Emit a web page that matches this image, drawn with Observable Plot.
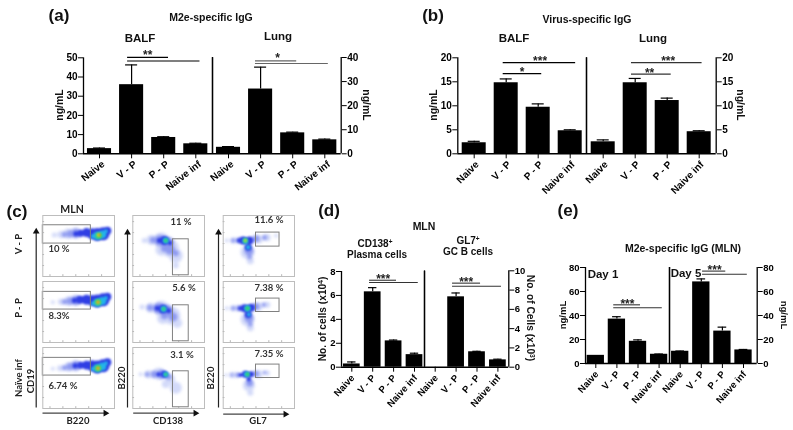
<!DOCTYPE html>
<html>
<head>
<meta charset="utf-8">
<script src="https://cdn.jsdelivr.net/npm/d3@7"></script>
<script src="https://cdn.jsdelivr.net/npm/@observablehq/plot@0.6"></script>
<style>
html,body{margin:0;padding:0;background:#fff}
#fig{position:relative;width:793px;height:430px;overflow:hidden;background:#fff;filter:blur(.35px);font-family:"Liberation Sans",Arial,sans-serif}
#fig svg{position:absolute;left:0;top:0;background:transparent;overflow:visible}
.t{position:absolute;white-space:nowrap;color:#111;line-height:1}
.t sup{font-size:.65em;line-height:0;vertical-align:baseline;position:relative;top:-.45em}
</style>
</head>
<body>
<div id="fig"></div>
<script>
// ---------- data ----------
const groups = ["Naive", "V - P", "P - P", "Naive inf"];

const aBalf = [2.7, 36, 8.5, 5.2],      aBalfErr = [0.3, 10.3, 0.4, 0.3];
const aLung = [2.7, 26.9, 8.7, 5.8],    aLungErr = [0.3, 9.1, 0.3, 0.3];
const bBalf = [2.3, 14.8, 9.7, 4.8],    bBalfErr = [0.3, 0.8, 0.7, 0.2];
const bLung = [2.5, 14.8, 11.1, 4.6],   bLungErr = [0.4, 0.9, 0.5, 0.2];
const dPlasma = [0.27, 6.3, 2.2, 1.05], dPlasmaErr = [0.17, 0.35, 0.07, 0.12];
const dGC = [0, 7.3, 1.6, 0.76],        dGCErr = [0, 0.4, 0.05, 0.07];
const eDay1 = [6.8, 37, 18.5, 7.7],     eDay1Err = [0, 2, 1.2, 0.2];
const eDay5 = [10.2, 68, 27, 11.3],     eDay5Err = [0.2, 2.5, 3.3, 0.4];

// significance bars: [from group, to group, value]; stars: [label, group, value]
const aBalfBars = [[0.875, 2.15, 50.2], [0.875, 3.13, 48.3]], aBalfStars = [["**", 1.5, 52.8]];
const aLungBars = [[0.84, 2.125, 38.6], [0.84, 3.11, 37.5]],  aLungStars = [["*", 1.53, 40.8]];
const bBalfBars = [[0.906, 3.17, 19], [0.906, 2.11, 16.7]],   bBalfStars = [["***", 2.06, 19.85], ["*", 1.5, 17.56]];
const bLungBars = [[0.884, 3.09, 19], [0.884, 2.125, 16.6]],  bLungStars = [["***", 2.03, 19.85], ["**", 1.45, 17.35]];
const dPlasmaBars = [[0.85, 2.14, 7.27], [0.85, 3.18, 7.08]], dPlasmaStars = [["***", 1.5, 7.6]];
const dGCBars = [[0.83, 2.17, 8.72], [0.83, 3.17, 8.4]],      dGCStars = [["***", 1.48, 9.1]];
const eDay1Bars = [[0.85, 2.12, 48.9], [0.85, 3.15, 46.4]],   eDay1Stars = [["***", 1.5, 51.9]];
const eDay5Bars = [[1.06, 2.16, 77], [1.06, 3.18, 74.4]],     eDay5Stars = [["***", 1.63, 80]];

// flow plots: gate [x1, x2, y1, y2] in % of the frame; density blobs [level, x, y, radius]
const densityColors = ["#d3daf9", "#8c98f0", "#2f3ee4", "#24b4ea", "#33d46c", "#e6e22e", "#e2331f"];
const flowTicks = [10, 28, 46, 64, 82];

const gatesB220 = [[0, 67, 16, 46], [0, 67, 17, 46], [0, 67, 17, 46]];
const gatesCD138 = [[56, 78, 39, 98], [56, 78, 39, 98], [56, 78, 39, 98]];
const gatesGL7 = [[46, 79, 28, 51], [46, 79, 28, 50], [46, 79, 28, 50]];

const b220VP = [[0,16,32,2.5],[0,25,31,3.5],[0,35,30,5],
  [1,30,31,2.5],[1,38,30,3.5],[1,46,29,5],
  [2,46,30,2.5],[2,53,29,3.5],[2,61,28,4.5],[2,69,30,5.5],[2,76,31,6.5],[2,84,30,6.5],[2,90,25,4],
  [3,70,34,2.2],[3,76,33,4],[3,83,31,4],[3,88,26,2],[4,78,33,3.2],[5,78,32,1.8],[6,79,32,0.9]];
const b220PP = [[0,14,34,2],[0,25,33,3],[0,36,32,4.5],
  [1,30,33,2.5],[1,38,32,3.5],[1,46,31,5],
  [2,44,31,2.5],[2,52,30,4],[2,61,30,5],[2,69,31,5.5],[2,76,32,6.5],[2,84,30,6.5],[2,90,25,4],
  [3,70,36,2.2],[3,76,35,4],[3,83,32,4],[3,88,27,2],[4,77,34,3.2],[5,77,34,1.8],[6,77,34,0.9]];
const b220Inf = [[0,14,35,2],[0,24,34,3],[0,36,32,4.5],
  [1,30,33,2.5],[1,38,31,3.5],[1,46,30,5],
  [2,45,30,2.5],[2,53,29,3.5],[2,61,29,4.5],[2,69,30,5.5],[2,76,32,6.5],[2,84,30,6.5],[2,90,24,4],
  [3,70,35,2.2],[3,76,34,4],[3,83,31,4],[3,88,26,2],[4,77,34,3.2],[5,77,34,1.8],[6,77,34,0.9]];

const cd138VP = [[0,16,41,2.5],[0,26,40,5],[0,40,40,7.5],[0,52,54,9],[0,60,66,7],[0,40,56,6],[0,60,82,3],
  [1,28,40,3],[1,38,41,5.5],[1,50,44,5],[1,52,56,5],[1,44,54,3.5],[1,60,62,3],
  [2,37,41,2.5],[2,44,41,4.5],[2,52,45,2.2],[3,46,41,3],[4,46,41,1.9]];
const cd138PP = [[0,13,42,2.5],[0,25,43,5],[0,40,44,7.5],[0,54,56,9],[0,62,68,5],[0,42,60,6],
  [1,24,43,3],[1,36,44,5.5],[1,48,47,5.5],[1,56,58,4.5],[1,44,56,3.5],
  [2,34,44,2.5],[2,42,45,4.5],[2,50,48,2.5],[3,43,45,3],[4,43,45,1.9]];
const cd138Inf = [[0,11,44,2],[0,22,44,4],[0,36,43,6],[0,52,52,5],[0,60,66,6],[0,46,60,4],
  [1,20,44,2.2],[1,30,44,3.5],[1,40,44,4.5],[1,50,48,3],
  [2,36,44,2.2],[2,44,44,3.5],[3,46,44,2.6],[4,46,44,1.6]];

const gl7VP = [[0,5,41,2],[0,14,41,3],[0,50,39,4],[0,62,36,3.5],[0,74,33,2],[0,34,60,7],[0,38,74,3.5],
  [1,14,41,2],[1,22,41,3],[1,46,38,3.5],[1,58,36,2.5],[1,36,58,4.5],[1,37,68,2.2],
  [2,22,41,2],[2,28,41,4],[2,37,41,4],[2,35,52,3.5],
  [3,31,42,3],[3,35,52,2.2],[4,31,41,2.2],[5,31,41,1.3]];
const gl7PP = [[0,5,44,2],[0,14,44,3],[0,50,41,4],[0,62,38,3],[0,34,62,7],[0,38,76,3.5],
  [1,14,44,2],[1,22,44,3],[1,46,41,3.5],[1,57,38,2.2],[1,36,60,4.5],[1,38,70,2.2],
  [2,24,44,2.2],[2,30,44,4],[2,39,43,4],[2,35,54,3.5],
  [3,34,44,3.2],[3,36,54,2],[4,34,44,2.2]];
const gl7Inf = [[0,4,45,1.8],[0,13,45,3],[0,50,44,4],[0,62,42,2.6],[0,36,62,6],[0,38,74,3],
  [1,12,45,1.6],[1,20,45,2.5],[1,46,43,3],[1,58,41,1.8],[1,37,58,3.5],
  [2,24,45,2],[2,31,44,3.5],[2,39,44,3],[2,36,52,2.2],
  [3,33,44,2.8],[4,34,44,2]];

const panelLetters = [["(a)", 59, 15], ["(b)", 433, 15], ["(c)", 17, 211], ["(d)", 329, 210], ["(e)", 568, 210]];
const panelTitles = [
  ["M2e-specific IgG", 211, 17, 10.5], ["BALF", 140, 39, 11.5], ["Lung", 278, 37, 11.5],
  ["Virus-specific IgG", 587, 19, 10.5], ["BALF", 514, 39, 11.5], ["Lung", 653, 39, 11.5],
  ["MLN", 424, 226, 10.5], ["CD138<sup>+</sup>", 375, 244, 10], ["Plasma cells", 377, 255, 10],
  ["GL7<sup>+</sup>", 468, 241, 10], ["GC B cells", 468, 252, 10],
  ["M2e-specific IgG (MLN)", 683, 248, 10.5], ["Day 1", 603, 275, 11.5], ["Day 5", 686, 274, 11.5]
];
const axisTitles = [
  ["ng/mL", 59, 105, -90, 10.5], ["ng/mL", 367, 105, 90, 10.5], ["ng/mL", 433, 105, -90, 10.5], ["ng/mL", 741, 105, 90, 10.5],
  ["No. of cells (x10<sup>4</sup>)", 323, 319, -90, 10.2], ["No. of Cells (x10<sup>3</sup>)", 530, 318, 90, 10.2],
  ["ng/mL", 563, 315, -90, 9.5], ["ng/mL", 784, 315, 90, 9.5]
];
const flowLabels = [
  ["MLN", 72, 209, 0, 10.5], ["V - P", 19, 244, -90, 9.5], ["P - P", 19, 308, -90, 9.5],
  ["Naïve inf", 19, 378, -90, 9.5], ["CD19", 31, 381, -90, 9.5],
  ["B220", 122, 378, -90, 9.5], ["B220", 211, 378, -90, 9.5],
  ["B220", 78, 421, 0, 9.5], ["CD138", 168, 421, 0, 9.5], ["GL7", 258, 421, 0, 9.5]
];
const flowPercents = [
  ["10 %", 59, 249], ["8.3%", 59, 316], ["6.74 %", 63, 386],
  ["11 %", 181, 222], ["5.6 %", 184, 288], ["3.1 %", 182, 355],
  ["11.6 %", 269, 220], ["7.38 %", 269, 288], ["7.35 %", 269, 354]
];
// gating arrows: [x1, y1, x2, y2]
const flowArrows = [
  [35.7, 407, 35.7, 231], [127, 407, 127, 232], [218, 407, 218, 232],
  [42, 412.7, 105, 412.7], [132.7, 412.7, 195, 412.7], [222.7, 413.7, 285, 413.7]
];

// ---------- drawing ----------
const fig = document.getElementById("fig");
const W = 793, H = 430;
const baseStyle = {fontFamily: '"Liberation Sans",Arial,sans-serif', fontSize: "10px", fontWeight: 700, color: "#000", background: "transparent", overflow: "visible"};

function label(html, x, y, size, opts = {}) {
  const el = document.createElement("div");
  el.className = "t";
  el.innerHTML = html;
  el.style.left = x + "px";
  el.style.top = y + "px";
  el.style.fontSize = size + "px";
  el.style.fontWeight = opts.weight || 700;
  if (opts.family) el.style.fontFamily = opts.family;
  if (opts.color) el.style.color = opts.color;
  el.style.transform = `translate(-50%,-50%) rotate(${opts.rotate || 0}deg)`;
  fig.appendChild(el);
}

// one half of a bar panel: its own value scale, drawn on the page-sized canvas
function half({values, errors, bars, stars, first, step, x0, x1, yTop, y0, max, yTicks, side, barColor = "#000", barWidth = 0.375, fontSize = "10px", rotate = -42, labelDx = 0}) {
  const rows = values.map((v, i) => ({i, v, e: errors[i]}));
  const toIndex = (px) => (px - first) / step;
  const d0 = toIndex(x0), d1 = toIndex(x1);
  const marks = [
    Plot.rectY(rows, {x1: (d) => d.i - barWidth, x2: (d) => d.i + barWidth, y1: 0, y2: "v", fill: "#000"}),
    Plot.ruleX(rows.filter((d) => d.e > 0), {x: "i", y1: "v", y2: (d) => d.v + d.e, stroke: "#000", strokeWidth: 1.2}),
    Plot.ruleY(rows.filter((d) => d.e > 0), {y: (d) => d.v + d.e, x1: (d) => d.i - barWidth / 2, x2: (d) => d.i + barWidth / 2, stroke: "#000", strokeWidth: 1.2}),
    Plot.ruleY([0], {stroke: "#000", strokeWidth: 1.4}),
    Plot.axisX({ticks: [0, 1, 2, 3], tickFormat: () => "", tickSize: 5, label: null, stroke: "#000"}),
    Plot.axisX({ticks: [0, 1, 2, 3], tickFormat: (i) => groups[i], tickRotate: rotate, tickSize: 0, tickPadding: 9, dx: labelDx, label: null}),
    Plot.axisY({anchor: side, ticks: yTicks, tickSize: 5, tickPadding: 1, tickFormat: (d) => d, label: null, stroke: "#000"}),
    Plot.ruleX([d0, d1], {stroke: "#000", strokeWidth: 1.3}),
    Plot.ruleY(bars, {y: (d) => d[2], x1: (d) => d[0], x2: (d) => d[1], stroke: barColor, strokeWidth: 1.1}),
    Plot.text(stars, {text: (d) => d[0], x: (d) => d[1], y: (d) => d[2], dy: 3, fontSize: 12, fontWeight: 700, fill: "#222"})
  ];
  const svg = Plot.plot({
    width: W, height: H, style: {...baseStyle, fontSize},
    marginLeft: x0, marginRight: W - x1, marginTop: yTop, marginBottom: H - y0,
    x: {domain: [d0, d1], axis: null},
    y: {domain: [0, max], axis: null},
    marks
  });
  fig.appendChild(svg);
}

function flow({x0, x1, yTop, yBottom, gate, blobs}) {
  const levels = d3.groups(blobs, (d) => d[0]);
  const svg = Plot.plot({
    width: W, height: H, style: baseStyle,
    marginLeft: x0, marginRight: W - x1, marginTop: yTop, marginBottom: H - yBottom,
    x: {domain: [0, 100], axis: null},
    y: {domain: [100, 0], axis: null},
    r: {type: "identity"},
    marks: [
      ...levels.map(([level, items]) => Plot.dot(items, {
        x: (d) => d[1], y: (d) => d[2], r: (d) => d[3],
        fill: densityColors[level], stroke: "none",
        imageFilter: level < 2 ? "blur(1.6px)" : "blur(1px)"
      })),
      Plot.rect([gate], {x1: (d) => d[0], x2: (d) => d[1], y1: (d) => d[2], y2: (d) => d[3], fill: "none", stroke: "#808080", strokeWidth: 1}),
      Plot.ruleX(flowTicks, {x: (d) => d, y1: 97, y2: 100, stroke: "#999", strokeWidth: 0.7}),
      Plot.ruleY(flowTicks, {y: (d) => d, x1: 0, x2: 2.5, stroke: "#999", strokeWidth: 0.7}),
      Plot.frame({stroke: "#bdbdbd", strokeWidth: 1})
    ]
  });
  fig.appendChild(svg);
}

// (a)
half({values: aBalf, errors: aBalfErr, bars: aBalfBars, stars: aBalfStars, first: 99, step: 32.1, x0: 83, x1: 212, yTop: 57.3, y0: 153.3, max: 50, yTicks: [0,10,20,30,40,50], side: "left", rotate: -38, labelDx: 4});
half({values: aLung, errors: aLungErr, bars: aLungBars, stars: aLungStars, first: 228, step: 32.1, x0: 212, x1: 340.7, yTop: 57, y0: 153.3, max: 40, yTicks: [0,10,20,30,40], side: "right", barColor: "#666", rotate: -38, labelDx: 4});
// (b)
half({values: bBalf, errors: bBalfErr, bars: bBalfBars, stars: bBalfStars, first: 473.7, step: 32, x0: 457.3, x1: 586, yTop: 57.3, y0: 153.3, max: 20, yTicks: [0,5,10,15,20], side: "left", rotate: -45, labelDx: 3});
half({values: bLung, errors: bLungErr, bars: bLungBars, stars: bLungStars, first: 602.7, step: 32, x0: 586, x1: 715.7, yTop: 57.3, y0: 153.3, max: 20, yTicks: [0,5,10,15,20], side: "right", barColor: "#333", rotate: -45, labelDx: 3});
// (d)
half({values: dPlasma, errors: dPlasmaErr, bars: dPlasmaBars, stars: dPlasmaStars, first: 351.3, step: 20.9, x0: 341, x1: 424, yTop: 271, y0: 366.7, max: 8, yTicks: [0,2,4,6,8], side: "left", barColor: "#333", barWidth: 0.4, fontSize: "9.5px", rotate: -48, labelDx: 1});
half({values: dGC, errors: dGCErr, bars: dGCBars, stars: dGCStars, first: 434.7, step: 20.9, x0: 424, x1: 508.3, yTop: 270.3, y0: 366.7, max: 10, yTicks: [0,2,4,6,8,10], side: "right", barColor: "#333", barWidth: 0.4, fontSize: "9.5px", rotate: -48, labelDx: 1});
// (e)
half({values: eDay1, errors: eDay1Err, bars: eDay1Bars, stars: eDay1Stars, first: 595.3, step: 21.1, x0: 585, x1: 669, yTop: 267, y0: 363, max: 80, yTicks: [0,20,40,60,80], side: "left", barColor: "#333", barWidth: 0.41, fontSize: "9.5px", rotate: -48, labelDx: 1});
half({values: eDay5, errors: eDay5Err, bars: eDay5Bars, stars: eDay5Stars, first: 679.7, step: 21.1, x0: 669, x1: 756.7, yTop: 267, y0: 363, max: 80, yTicks: [0,20,40,60,80], side: "right", barColor: "#333", barWidth: 0.41, fontSize: "9.5px", rotate: -48, labelDx: 1});

// (c)
const rowsY = [[215, 276], [281, 342], [347, 408]];
const columns = [
  {x0: 42.3, x1: 114, gates: gatesB220, blobs: [b220VP, b220PP, b220Inf]},
  {x0: 132.3, x1: 204, gates: gatesCD138, blobs: [cd138VP, cd138PP, cd138Inf]},
  {x0: 222.7, x1: 294, gates: gatesGL7, blobs: [gl7VP, gl7PP, gl7Inf]}
];
for (const c of columns) rowsY.forEach(([yTop, yBottom], r) =>
  flow({x0: c.x0, x1: c.x1, yTop, yBottom, gate: c.gates[r], blobs: c.blobs[r]}));

// gating arrows on a page-sized identity layer
fig.appendChild(Plot.plot({
  width: W, height: H, style: baseStyle, margin: 0,
  x: {domain: [0, W], range: [0, W], axis: null},
  y: {domain: [0, H], range: [0, H], axis: null},
  marks: [
    Plot.link(flowArrows, {x1: (d) => d[0], y1: (d) => d[1], x2: (d) => d[2], y2: (d) => d[3], stroke: (d) => d[0] === d[2] ? "#222" : "#444", strokeWidth: 1.2}),
    Plot.dot(flowArrows, {x: (d) => d[2], y: (d) => d[3], symbol: "triangle2", r: 3.2, fill: "#111", stroke: "none", rotate: (d) => d[0] === d[2] ? 0 : 90})
  ]
}));

// text
for (const [t, x, y] of panelLetters) label(t, x, y, 17);
for (const [t, x, y, s] of panelTitles) label(t, x, y, s);
for (const [t, x, y, r, s] of axisTitles) label(t, x, y, s, {rotate: r});
for (const [t, x, y, r, s] of flowLabels) label(t, x, y, s, {rotate: r, family: "Lato,sans-serif", color: "#222"});
for (const [t, x, y] of flowPercents) label(t, x, y, 9.5, {family: "Lato,sans-serif", color: "#333"});
</script>
</body>
</html>
